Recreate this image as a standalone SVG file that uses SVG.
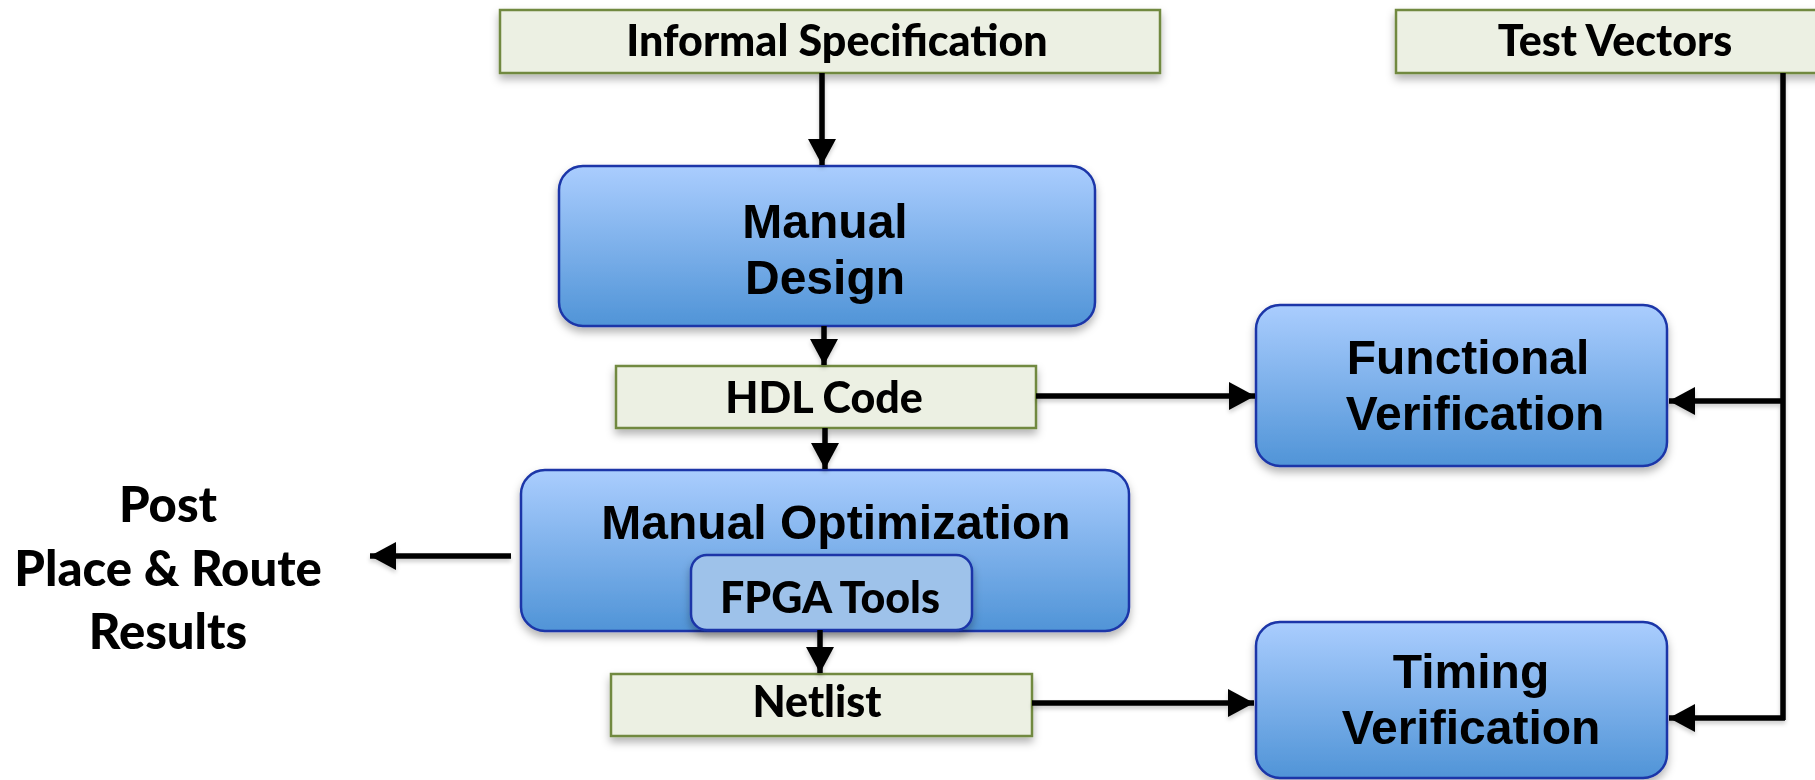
<svg xmlns="http://www.w3.org/2000/svg" width="1815" height="780" viewBox="0 0 1815 780">
<style>
.g{fill:#ECF0E3;stroke:#71893F;stroke-width:2.5}
.b{fill:url(#bg);stroke:#1A36A8;stroke-width:2.5}
.i{fill:#9EC2EA;stroke:#1A36A8;stroke-width:2.5}
.tc{font-family:Lato,"Open Sans",sans-serif;font-weight:900;fill:#000;text-anchor:middle;font-size:43px}
.tp{font-size:49px}
.ta{font-family:"Liberation Sans",Arial,sans-serif;font-weight:bold;fill:#000;text-anchor:middle;font-size:48px}
.c{stroke:#000;stroke-width:5.5;fill:none}
</style>
<defs>
<linearGradient id="bg" x1="0" y1="0" x2="0" y2="1">
<stop offset="0" stop-color="#AACDFE"/>
<stop offset="1" stop-color="#5094D7"/>
</linearGradient>
<filter id="sh" x="-10%" y="-10%" width="120%" height="140%">
<feDropShadow dx="0" dy="5" stdDeviation="4" flood-color="#000" flood-opacity="0.3"/>
</filter>
<filter id="csh" x="-10%" y="-10%" width="120%" height="120%">
<feDropShadow dx="0" dy="3" stdDeviation="2" flood-color="#000" flood-opacity="0.2"/>
</filter>
<marker id="ah" viewBox="0 0 26 28" refX="26" refY="14" markerWidth="26" markerHeight="28" markerUnits="userSpaceOnUse" orient="auto">
<path d="M0,0 L26,14 L0,28 Z" fill="#000"/>
</marker>
</defs>
<rect width="1815" height="780" fill="#fff"/>

<g id="informal-spec" filter="url(#sh)">
<rect class="g" x="500" y="10" width="660" height="63"/>
<text class="tc" x="837" y="56">Informal Specification</text>
</g>
<g id="test-vectors" filter="url(#sh)">
<rect class="g" x="1396" y="10" width="430" height="63"/>
<text class="tc" x="1615" y="56">Test Vectors</text>
</g>
<g id="manual-design" filter="url(#sh)">
<rect class="b" x="559" y="166" width="536" height="160" rx="24"/>
<text class="ta" x="825" y="238">Manual</text>
<text class="ta" x="825" y="294">Design</text>
</g>
<g id="hdl-code" filter="url(#sh)">
<rect class="g" x="616" y="366" width="420" height="62"/>
<text class="tc" x="824" y="413">HDL Code</text>
</g>
<g id="functional-verification" filter="url(#sh)">
<rect class="b" x="1256" y="305" width="411" height="161" rx="24"/>
<text class="ta" x="1468" y="374">Functional</text>
<text class="ta" x="1475" y="430">Verification</text>
</g>
<g id="manual-optimization" filter="url(#sh)">
<rect class="b" x="521" y="470" width="608" height="161" rx="24"/>
<text class="ta" x="836" y="539">Manual Optimization</text>
</g>
<g id="fpga-tools" filter="url(#sh)">
<rect class="i" x="691" y="555" width="281" height="75" rx="16"/>
<text class="tc" x="830" y="613">FPGA Tools</text>
</g>
<g id="netlist" filter="url(#sh)">
<rect class="g" x="611" y="674" width="421" height="62"/>
<text class="tc" x="817" y="717">Netlist</text>
</g>
<g id="timing-verification" filter="url(#sh)">
<rect class="b" x="1256" y="622" width="411" height="156" rx="24"/>
<text class="ta" x="1471" y="688">Timing</text>
<text class="ta" x="1471" y="744">Verification</text>
</g>
<g id="post-par">
<text class="tc tp" x="168" y="522">Post</text>
<text class="tc tp" x="168" y="586">Place &amp; Route</text>
<text class="tc tp" x="168" y="649">Results</text>
</g>

<g id="connectors" filter="url(#csh)">
<line class="c" x1="822" y1="73" x2="822" y2="165" marker-end="url(#ah)"/>
<line class="c" x1="824" y1="326" x2="824" y2="365" marker-end="url(#ah)"/>
<line class="c" x1="825" y1="428" x2="825" y2="469" marker-end="url(#ah)"/>
<line class="c" x1="820" y1="630" x2="820" y2="673" marker-end="url(#ah)"/>
<line class="c" x1="1036" y1="396" x2="1255" y2="396" marker-end="url(#ah)"/>
<line class="c" x1="1032" y1="703" x2="1254" y2="703" marker-end="url(#ah)"/>
<line class="c" x1="511" y1="556" x2="370" y2="556" marker-end="url(#ah)"/>
<polyline class="c" points="1783,73 1783,720"/>
<line class="c" x1="1785" y1="401" x2="1669" y2="401" marker-end="url(#ah)"/>
<line class="c" x1="1785" y1="718" x2="1669" y2="718" marker-end="url(#ah)"/>
</g>
</svg>
